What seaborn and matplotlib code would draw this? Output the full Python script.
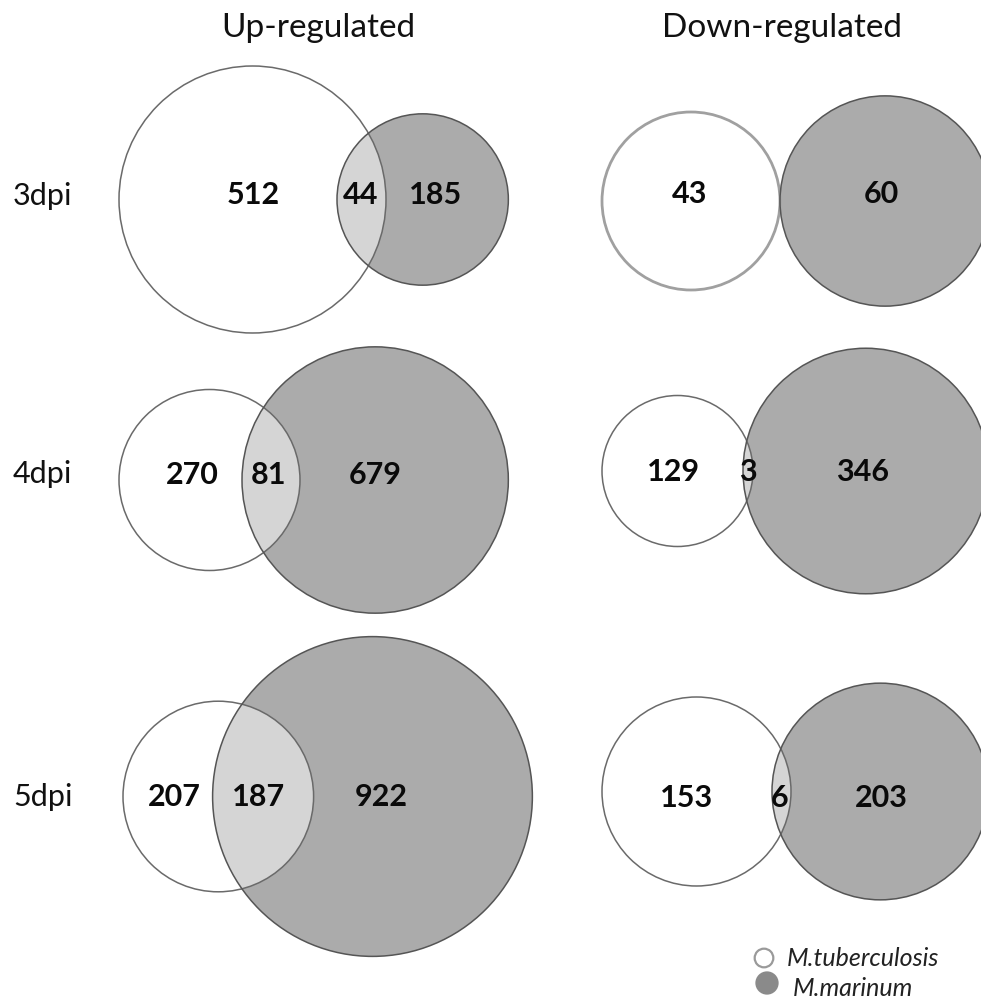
import numpy as np
import pandas as pd
import matplotlib
matplotlib.use("Agg")
import matplotlib.pyplot as plt
from matplotlib.patches import Circle
import seaborn as sns

# ---- data: differentially expressed gene counts ----
days = ["3dpi", "4dpi", "5dpi"]
up_mtb_only = [512, 270, 207]
up_shared = [44, 81, 187]
up_mm_only = [185, 679, 922]
down_mtb_only = [43, 129, 153]
down_shared = [0, 3, 6]
down_mm_only = [60, 346, 203]
columns = ["Up-regulated", "Down-regulated"]
species = ["M.tuberculosis", "M.marinum"]

# ---- layout (pixel units of the canvas) ----
W, H = 981, 1005
col_title_x = [318, 782]
title_y = 28
row_label_x = 13
row_label_y = [205, 483, 806]
left_edge = [[119, 119, 123], [602, 602, 602]]
r_mtb_px = [[133.5, 90.5, 95.3], [89, 75.5, 94.5]]
overlap_depth = [[49, 58, 101], [0, 10, 19]]
center_y = [[199.5, 480, 796.5], [201, 471, 791.5]]
label_x = [[(253, 361, 436), (192, 268, 375), (174, 259, 381)],
           [(690, 736, 881), (674, 748, 863), (687, 780, 881)]]
label_y = [[195, 475, 797], [194, 472, 798]]

MM_FILL = "#ababab"
SHARED_FILL = "#d5d5d5"
MM_EDGE = "#555555"

sns.set_theme(style="white")
plt.rcParams["font.family"] = ["Lato", "DejaVu Sans"]

fig = plt.figure(figsize=(W / 100, H / 100), dpi=100)
ax = fig.add_axes([0, 0, 1, 1])

groups = [
    (up_mtb_only, up_shared, up_mm_only),
    (down_mtb_only, down_shared, down_mm_only),
]

for c, (mtb_only, shared, mm_only) in enumerate(groups):
    ax.text(col_title_x[c], title_y, columns[c], ha="center", va="center",
            fontsize=24, color="#111111")
    for r in range(len(days)):
        n_mtb = mtb_only[r] + shared[r]
        n_mm = mm_only[r] + shared[r]
        r1 = r_mtb_px[c][r]
        r2 = r1 * np.sqrt(n_mm / n_mtb)
        cy = center_y[c][r]
        cx1 = left_edge[c][r] + r1
        cx2 = left_edge[c][r] + 2 * r1 - overlap_depth[c][r] + r2

        lw1, ec1 = (1.1, "#6a6a6a")
        if c == 1 and r == 0:
            lw1, ec1 = (2.0, "#a0a0a0")

        ax.add_patch(Circle((cx1, cy), r1, facecolor="white", edgecolor="none", zorder=1))
        mm = Circle((cx2, cy), r2, facecolor=MM_FILL, edgecolor="none", zorder=2)
        ax.add_patch(mm)
        lens = Circle((cx1, cy), r1, facecolor=SHARED_FILL, edgecolor="none", zorder=3)
        ax.add_patch(lens)
        lens.set_clip_path(mm)
        ax.add_patch(Circle((cx1, cy), r1, facecolor="none", edgecolor=ec1,
                            linewidth=lw1, zorder=4))
        ax.add_patch(Circle((cx2, cy), r2, facecolor="none", edgecolor=MM_EDGE,
                            linewidth=1.1, zorder=4))

        values = [mtb_only[r], shared[r], mm_only[r]]
        for k, v in enumerate(values):
            if v == 0:
                continue
            ax.text(label_x[c][r][k], label_y[c][r], str(v), ha="center", va="center",
                    fontsize=22, fontweight="bold", color="#0a0a0a", zorder=5)

for r, d in enumerate(days):
    ax.text(row_label_x, row_label_y[r], d, ha="left", va="baseline",
            fontsize=22, color="#111111")

# legend markers and names
legend_df = pd.DataFrame({"x": [764, 767], "y": [958, 983], "sp": species})
sns.scatterplot(data=legend_df, x="x", y="y", hue="sp",
                palette={species[0]: "white", species[1]: "#8a8a8a"},
                s=[180, 230], edgecolor=["#9a9a9a", "#8a8a8a"], linewidth=1.6,
                legend=False, ax=ax, zorder=6)
ax.set_xlim(0, W)
ax.set_ylim(H, 0)
ax.set_aspect("equal")
ax.axis("off")
ax.text(787, 958, species[0], ha="left", va="center", fontsize=18,
        fontstyle="italic", color="#222222")
ax.text(793, 988, species[1], ha="left", va="center", fontsize=18,
        fontstyle="italic", color="#222222")

fig.savefig("out.png", dpi=100)
